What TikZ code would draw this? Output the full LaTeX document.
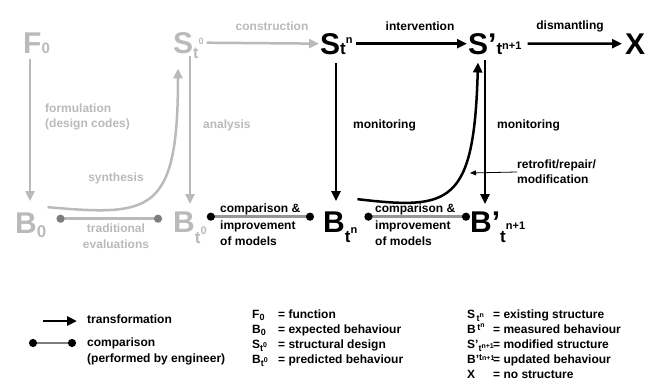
\documentclass[tikz,border=0pt]{standalone}
\usepackage{fontspec}
\setmainfont{Liberation Sans}
\usetikzlibrary{arrows.meta}
\definecolor{desgray}{RGB}{186,186,186}
\definecolor{dotgray}{RGB}{125,125,125}
\definecolor{bargray}{RGB}{150,150,150}
\newcommand{\sidx}[3]{\raisebox{#1}[0pt][0pt]{\fontsize{#2}{#2}\selectfont #3}}

\begin{document}
\begin{tikzpicture}[x=1pt, y=-1pt,
    sym/.style={inner sep=0pt, anchor=base west, font=\fontsize{30}{30}\selectfont\bfseries},
    lbl/.style={inner sep=0pt, font=\fontsize{12}{15}\selectfont\bfseries, align=left},
    glbl/.style={lbl, text=desgray},
    trans/.style={line width=2.5pt, -{Triangle[length=10pt,width=9pt]}},
    cmp/.style={line width=2.5pt, {Circle[length=8pt]}-{Circle[length=8pt]}}
  ]
  \useasboundingbox (0,0) rectangle (657,389);

  % design stage
  \node[sym, text=desgray] (F0) at (23,53) {F\sidx{0pt}{15}{0}};
  \node[sym, text=desgray] (St0) at (173,53) {S\sidx{-5pt}{16}{t}\sidx{9pt}{9}{0}};
  \node[sym, text=desgray] (B0) at (15,233) {B\sidx{-4pt}{17}{0}};
  \node[sym, text=desgray] (Bt0) at (173,232) {B\sidx{-11pt}{17}{t}\sidx{-2pt}{11}{0}};

  % existing structure
  \node[sym] (Stn) at (320,54) {S\sidx{0pt}{17}{t}\sidx{11pt}{11}{n}};
  \node[sym] (Sp) at (468,54) {S’\sidx{0pt}{17}{t}\sidx{5pt}{11}{n+1}};
  \node[sym] (X) at (625,54) {X};
  \node[sym] (Btn) at (323,232) {B\sidx{-10pt}{17}{t}\sidx{-1pt}{11}{n}};
  \node[sym] (Bp) at (470,232) {B’\sidx{-10pt}{17}{t}\sidx{3pt}{11}{n+1}};

  % transformations
  \draw[trans, desgray, shorten <=3pt, shorten >=1pt] (St0.east) -- (Stn.west);
  \draw[trans, shorten <=3pt, shorten >=1pt] (Stn.east) -- (Sp.west);
  \draw[trans, shorten <=6pt, shorten >=3pt] (Sp.east) -- (X.west);
  \draw[trans, desgray] ([xshift=7pt,yshift=-6pt]F0.south west) -- ([xshift=15pt,yshift=11pt]B0.north west);
  \draw[trans, desgray] ([xshift=17pt,yshift=-3pt]St0.south west) -- ([xshift=17pt,yshift=7pt]Bt0.north west);
  \draw[trans] ([xshift=16pt,yshift=-9pt]Stn.south west) -- ([xshift=13pt,yshift=10pt]Btn.north west);
  \draw[trans] ([xshift=17pt,yshift=-6pt]Sp.south west) -- ([xshift=15pt,yshift=7pt]Bp.north west);
  \draw[trans, desgray] ([xshift=1pt,yshift=5pt]B0.north east) .. controls (150,216) and (178,215) .. ([xshift=5pt,yshift=-15pt]St0.south west);
  \draw[trans] ([yshift=12pt]Btn.north east) .. controls (450,210) and (474,205) .. ([xshift=10pt,yshift=-8pt]Sp.south west);

  % comparisons
  \draw[cmp, desgray, {Circle[length=8pt,color=dotgray]}-{Circle[length=8pt,color=dotgray]}] ([xshift=10pt,yshift=4pt]B0.east) -- ([xshift=-11pt,yshift=3pt]Bt0.west);
  \draw[cmp, bargray, {Circle[length=8pt,color=black]}-{Circle[length=8pt,color=black]}] ([yshift=5pt]Bt0.east) -- ([xshift=-9pt,yshift=5pt]Btn.west);
  \draw[cmp, bargray, {Circle[length=8pt,color=black]}-{Circle[length=8pt,color=black]}] ([xshift=7pt,yshift=5pt]Btn.east) -- ([yshift=5pt]Bp.west);

  % labels
  \node[glbl] (lcon) at (272,26) {construction};
  \node[lbl] (lint) at (420,26) {intervention};
  \node[lbl] (ldis) at (570,26) {dismantling};
  \node[glbl, anchor=west] (lform) at (45,117) {formulation\\(design codes)};
  \node[glbl, anchor=west] (lana) at (203,125) {analysis};
  \node[glbl] (lsyn) at (116,178) {synthesis};
  \node[lbl, anchor=west] (lmon1) at (353,125) {monitoring};
  \node[lbl, anchor=west] (lmon2) at (497,125) {monitoring};
  \node[lbl, anchor=west] (lrep) at (517,172) {retrofit/repair/\\modification};
  \coordinate (rep) at (470,173);
  \draw[line width=0.8pt, -{Triangle[length=6pt,width=5pt]}] (lrep.west) -- (rep);
  \node[glbl, align=center, font=\fontsize{12}{16}\selectfont\bfseries] (ltrad) at (116,236) {traditional\\evaluations};
  \node[lbl, anchor=north west, font=\fontsize{12}{16}\selectfont\bfseries] (lcmp1) at (220,203.5) {comparison \&\\[1pt]improvement\\of models};
  \node[lbl, anchor=north west, font=\fontsize{12}{16}\selectfont\bfseries] (lcmp2) at (375,203.5) {comparison \&\\[1pt]improvement\\of models};

  % legend
  \coordinate (lt1) at (43,321);
  \coordinate (lt2) at (77,321);
  \draw[trans] (lt1) -- (lt2);
  \node[lbl, anchor=west] (ltrans) at (87,319) {transformation};
  \coordinate (lc1) at (29,343);
  \coordinate (lc2) at (76,343);
  \draw[cmp, dotgray, {Circle[length=8pt,color=black]}-{Circle[length=8pt,color=black]}] (lc1) -- (lc2);
  \node[lbl, anchor=north west, font=\fontsize{12}{16}\selectfont\bfseries] (lcomp) at (87,338) {comparison\\(performed by engineer)};
  \node[lbl, anchor=north west] (ldes) at (252,310) {
    \makebox[26pt][l]{F\sidx{-2pt}{9}{0}}= function\\
    \makebox[26pt][l]{B\sidx{-2pt}{9}{0}}= expected behaviour\\
    \makebox[26pt][l]{S\sidx{-3pt}{9}{t}\sidx{1pt}{7}{0}}= structural design\\
    \makebox[26pt][l]{B\sidx{-3pt}{9}{t}\sidx{1pt}{7}{0}}= predicted behaviour};
  \node[lbl, anchor=north west] (lexi) at (467,310) {
    \makebox[26pt][l]{S\sidx{-3pt}{9}{\,t}\sidx{1pt}{7}{n}}= existing structure\\
    \makebox[26pt][l]{B\sidx{3pt}{9}{\,t}\sidx{6pt}{7}{n}}= measured behaviour\\
    \makebox[26pt][l]{S’\sidx{-3pt}{9}{t}\sidx{0pt}{7}{n+1}}= modified structure\\
    \makebox[26pt][l]{B’\sidx{3pt}{9}{t}\sidx{3pt}{7}{n+1}}= updated behaviour\\
    \makebox[26pt][l]{X}= no structure};
\end{tikzpicture}
\end{document}
